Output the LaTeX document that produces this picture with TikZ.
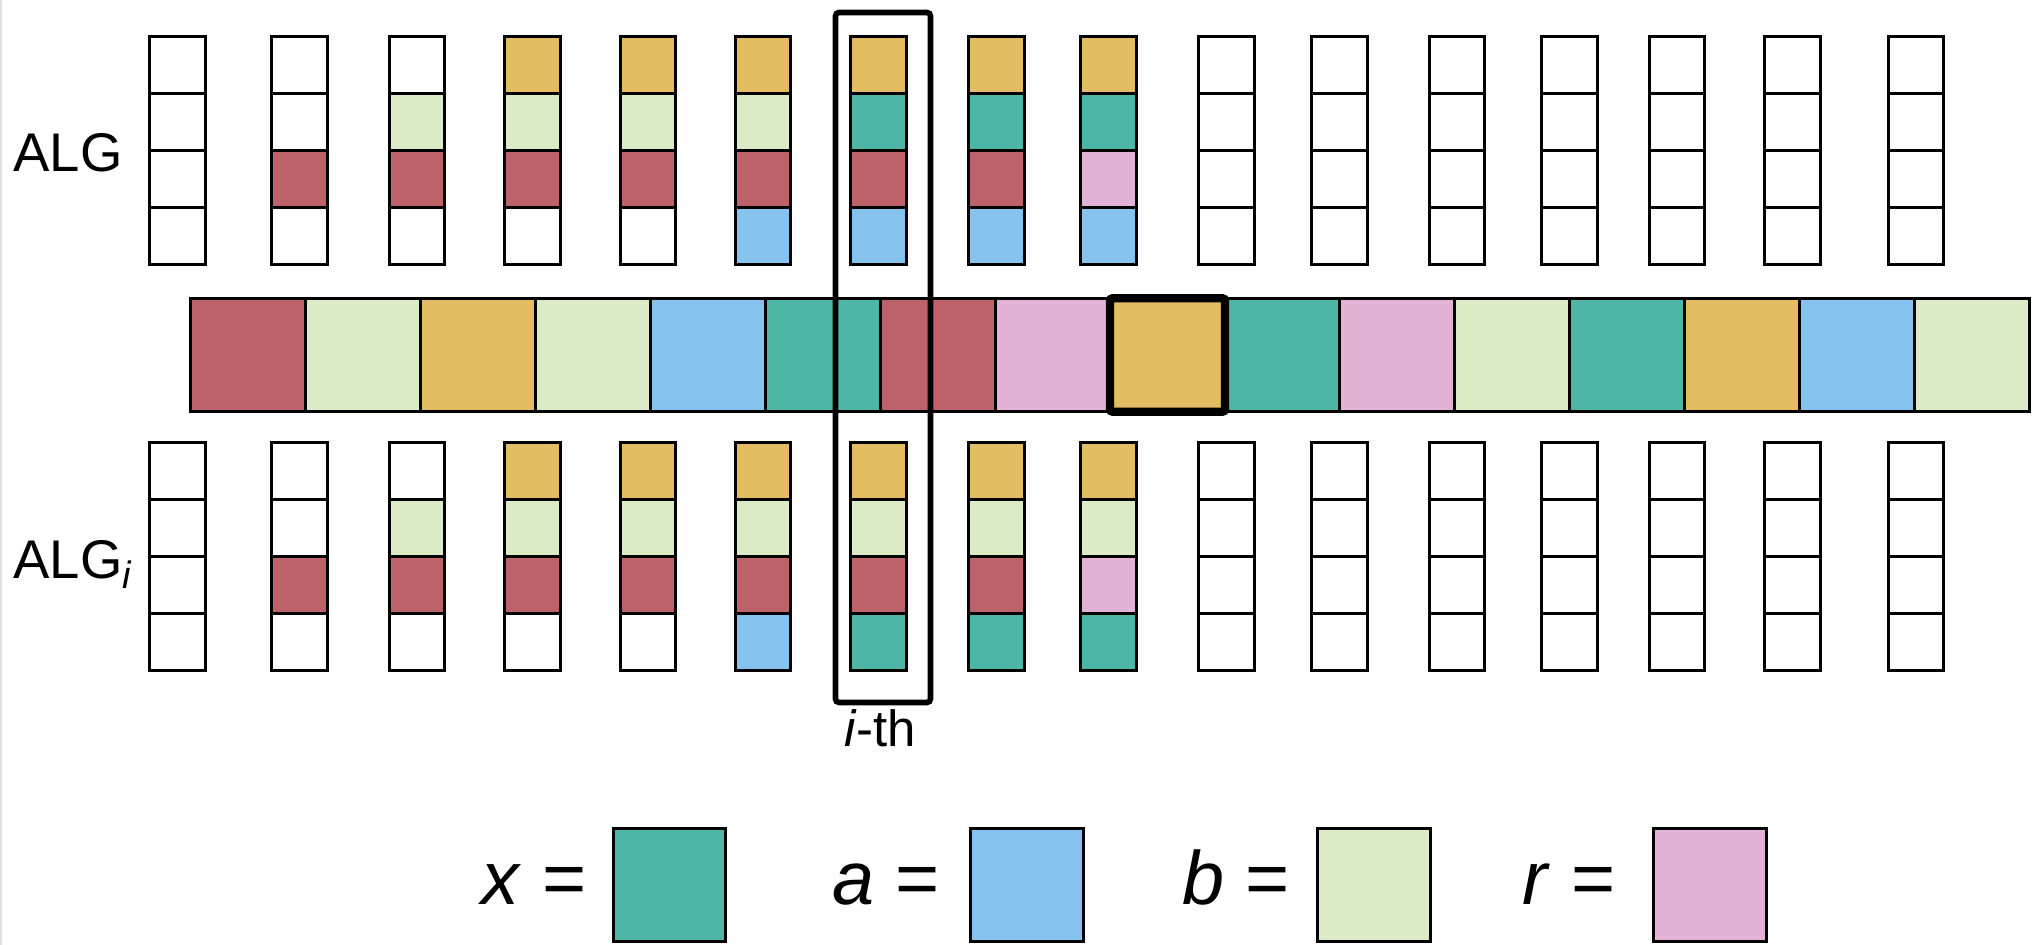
\documentclass[tikz,border=0pt]{standalone}
\usepackage{fontspec}
\setmainfont{Liberation Sans}
\usepackage{tikz}
\usetikzlibrary{positioning}

\definecolor{algred}{RGB}{189,98,104}
\definecolor{alggreen}{RGB}{218,235,198}
\definecolor{alggold}{RGB}{228,188,97}
\definecolor{algblue}{RGB}{133,195,238}
\definecolor{algteal}{RGB}{77,182,167}
\definecolor{algpink}{RGB}{226,179,215}

\begin{document}
\begin{tikzpicture}[
		cell/.style={draw, line width=0.85pt, minimum width=0.555cm, minimum height=0.571cm, inner sep=0pt, outer sep=0pt},
		seg/.style={draw, line width=0.85pt, minimum width=1.1497cm, minimum height=1.135cm, inner sep=0pt, outer sep=0pt},
		key/.style={draw, line width=0.85pt, minimum width=1.125cm, minimum height=1.135cm, inner sep=0pt, outer sep=0pt},
		lbl/.style={inner sep=0pt, font=\fontsize{15.5}{18}\selectfont},
		big/.style={inner sep=0pt, font=\fontsize{21.5}{26}\selectfont}
	]
				\useasboundingbox (0,0) rectangle (20.4,9.45);
				\fill[black!13] (0,0) rectangle (0.025,9.45);
				
				% ALG (top) and ALG_i (bottom), one column each
				\foreach \x/\ta/\tb/\tc/\td/\ba/\bb/\bc/\bd [count=\n] in {
					1.775/white/white/white/white/white/white/white/white,
					2.995/white/white/algred/white/white/white/algred/white,
					4.170/white/alggreen/algred/white/white/alggreen/algred/white,
					5.323/alggold/alggreen/algred/white/alggold/alggreen/algred/white,
					6.478/alggold/alggreen/algred/white/alggold/alggreen/algred/white,
					7.632/alggold/alggreen/algred/algblue/alggold/alggreen/algred/algblue,
					8.786/alggold/algteal/algred/algblue/alggold/alggreen/algred/algteal,
					9.965/alggold/algteal/algred/algblue/alggold/alggreen/algred/algteal,
					11.085/alggold/algteal/algpink/algblue/alggold/alggreen/algpink/algteal,
					12.265/white/white/white/white/white/white/white/white,
					13.395/white/white/white/white/white/white/white/white,
					14.570/white/white/white/white/white/white/white/white,
					15.695/white/white/white/white/white/white/white/white,
					16.770/white/white/white/white/white/white/white/white,
					17.925/white/white/white/white/white/white/white/white,
					19.160/white/white/white/white/white/white/white/white} {
					\node[cell, fill=\ta] (top-\n-1) at (\x,8.802) {};
					\node[cell, fill=\tb, below=0pt of top-\n-1] (top-\n-2) {};
					\node[cell, fill=\tc, below=0pt of top-\n-2] (top-\n-3) {};
					\node[cell, fill=\td, below=0pt of top-\n-3] (top-\n-4) {};
					\node[cell, fill=\ba] (bot-\n-1) at (\x,4.742) {};
					\node[cell, fill=\bb, below=0pt of bot-\n-1] (bot-\n-2) {};
					\node[cell, fill=\bc, below=0pt of bot-\n-2] (bot-\n-3) {};
					\node[cell, fill=\bd, below=0pt of bot-\n-3] (bot-\n-4) {};
				}
				
				% the sequence
				\foreach \c [count=\k] in {algred,alggreen,alggold,alggreen,algblue,algteal,algred,algpink,alggold,algteal,algpink,alggreen,algteal,alggold,algblue,alggreen}
					\node[seg, fill=\c] (bar-\k) at ({1.9025+(\k-0.5)*1.1497},5.90) {};
				\draw[line width=2.4pt, rounded corners=0.8pt] (bar-9.north west) rectangle (bar-9.south east);
				
				\node[draw, line width=1.6pt, rounded corners=1pt, inner sep=0pt, minimum width=0.95cm, minimum height=6.90cm] (ith) at (8.83,5.875) {};
				\node[inner sep=0pt, font=\fontsize{14.5}{17}\selectfont, anchor=base] (ithname) at (8.80,1.98) {\textit{i}-th};
				
				\node[lbl, anchor=base west] (alg) at (0.128,7.73) {ALG};
				\node[lbl, anchor=base west] (algi) at (0.128,3.667) {ALG\textsubscript{\textit{i}}};
				
				% legend
				\node[key, fill=algteal] (keyx) at (6.695,0.60) {};
				\node[key, fill=algblue] (keya) at (10.27,0.60) {};
				\node[key, fill=alggreen] (keyb) at (13.74,0.60) {};
				\node[key, fill=algpink] (keyr) at (17.10,0.60) {};
				\node[big, anchor=base east] (xname) at (5.87,0.40) {\textit{x} =};
				\node[big, anchor=base east] (aname) at (9.40,0.40) {\textit{a} =};
				\node[big, anchor=base east] (bname) at (12.90,0.40) {\textit{b} =};
				\node[big, anchor=base east] (rname) at (16.16,0.40) {\textit{r} =};
\end{tikzpicture}
\end{document}
